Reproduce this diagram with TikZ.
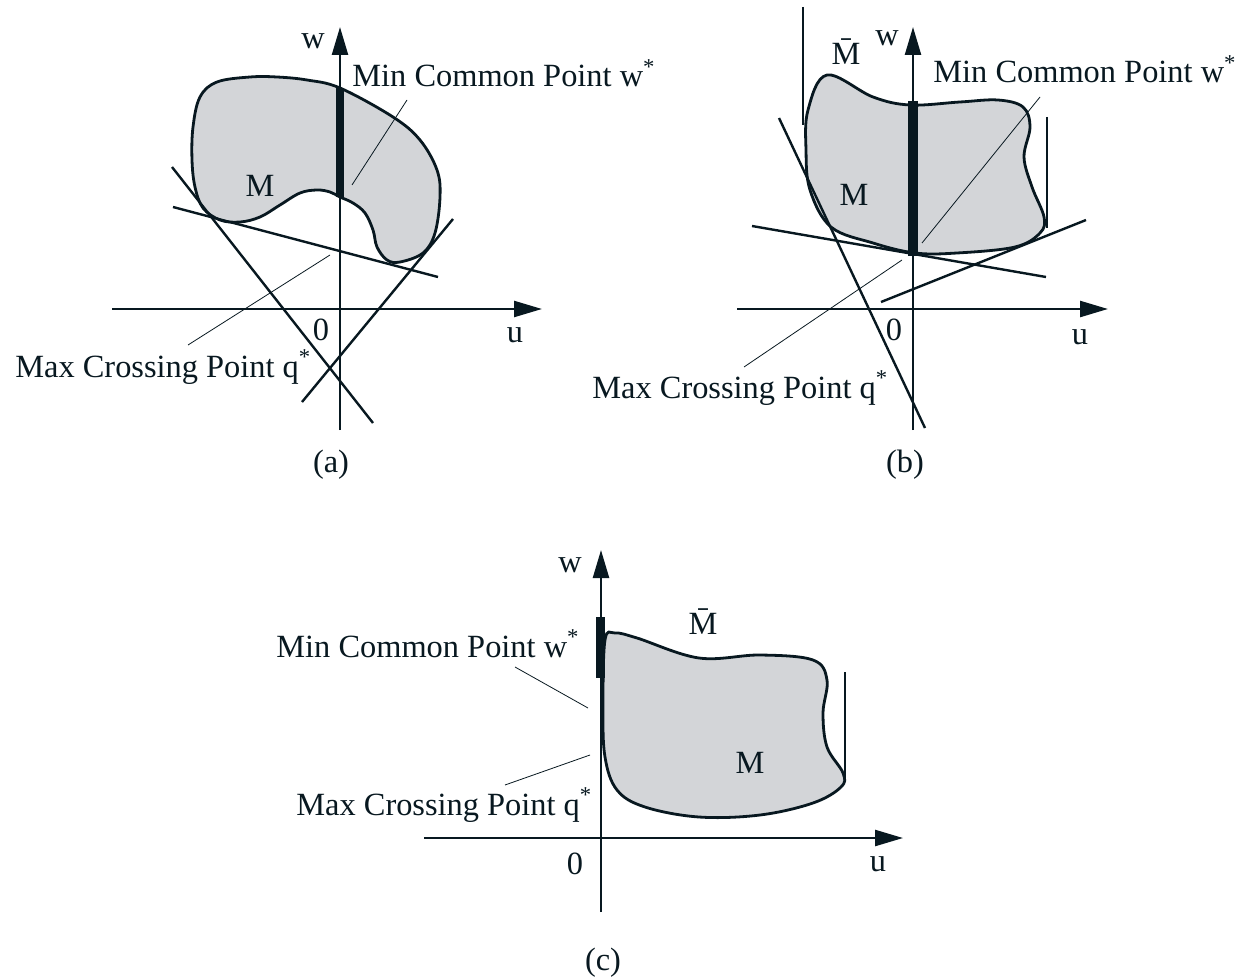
\documentclass[tikz,border=0pt]{standalone}
\usepackage{fontspec}
\setmainfont{Liberation Serif}
\usetikzlibrary{arrows.meta}
\definecolor{ink}{RGB}{8,24,32}
\definecolor{blobfill}{RGB}{211,213,216}
\begin{document}
\begin{tikzpicture}[x=0.5pt,y=-0.5pt,
  axis/.style={draw=ink,line width=1.2pt,-{Triangle[length=14pt,width=8pt]}},
  ln/.style={draw=ink,line width=1.2pt},
  blob/.style={draw=ink,line width=1.4pt,fill=blobfill},
  ptr/.style={draw=ink,line width=0.4pt},
  minbar/.style={draw=ink,line width=4pt},
  lbl/.style={font=\fontsize{16.2}{19}\selectfont,text=ink,inner sep=0pt},
]
\useasboundingbox (0,0) rectangle (1236,979);

% ================= (a) =================
\draw[blob] plot[smooth cycle,tension=0.6] coordinates {
 (200,97) (217,82) (250,77) (277,77) (307,80) (340,88) (393,117) (420,140)
 (437,170) (440,197) (435,233) (423,253) (400,262) (387,260) (377,247)
 (373,230) (365,213) (353,203) (340,197) (330,192) (317,190) (300,193)
 (280,205) (260,217) (240,222) (220,220) (203,208) (195,187) (192,160) (193,127)};
\coordinate (a1s) at (172,167); \coordinate (a1e) at (373,423);
\coordinate (a2s) at (173,207); \coordinate (a2e) at (438,277);
\coordinate (a3s) at (302,402); \coordinate (a3e) at (453,219);
\draw[ln] (a1s) -- (a1e);
\draw[ln] (a2s) -- (a2e);
\draw[ln] (a3s) -- (a3e);
\coordinate (auL) at (112,309); \coordinate (auR) at (542,309);
\coordinate (awB) at (340,430); \coordinate (awT) at (340,27);
\draw[axis] (auL) -- (auR);
\draw[axis] (awB) -- (awT);
\coordinate (abT) at (340,88); \coordinate (abB) at (340,197);
\draw[minbar] (abT) -- (abB);
\coordinate (apm1) at (407,100); \coordinate (apm2) at (352,185);
\draw[ptr] (apm1) -- (apm2);
\coordinate (apq1) at (330,255); \coordinate (apq2) at (188,345);
\draw[ptr] (apq1) -- (apq2);
\node[lbl] (aw) at (313,41) {w};
\node[lbl] (a0) at (321,330) {0};
\node[lbl] (au) at (515,335) {u};
\node[lbl] (aM) at (260,186) {M};
\node[lbl,anchor=base west] (amin) at (352,87) {Min Common Point w\textsuperscript{*}};
\node[lbl,anchor=base west] (amax) at (15,377) {Max Crossing Point q\textsuperscript{*}};
\node[lbl] (acap) at (331,465) {(a)};

% ================= (b) =================
\draw[blob] plot[smooth cycle,tension=0.6] coordinates {
 (827,75) (873,97) (910,105) (960,102) (998,100) (1023,107) (1030,127)
 (1024,157) (1032,187) (1044,217) (1040,233) (1015,247) (957,253)
 (915,253) (873,243) (831,227) (810,190) (806,150) (808,110)};
\coordinate (bv1t) at (803,7); \coordinate (bv1b) at (803,125);
\draw[ln] (bv1t) -- (bv1b);
\coordinate (bv2t) at (1047,117); \coordinate (bv2b) at (1047,228);
\draw[ln] (bv2t) -- (bv2b);
\coordinate (b1s) at (779,118); \coordinate (b1e) at (925,428);
\coordinate (b2s) at (752,226); \coordinate (b2e) at (1046,277);
\coordinate (b3s) at (881,302); \coordinate (b3e) at (1086,220);
\draw[ln] (b1s) -- (b1e);
\draw[ln] (b2s) -- (b2e);
\draw[ln] (b3s) -- (b3e);
\coordinate (buL) at (737,309); \coordinate (buR) at (1108,309);
\coordinate (bwB) at (913,430); \coordinate (bwT) at (913,27);
\draw[axis] (buL) -- (buR);
\draw[axis] (bwB) -- (bwT);
\coordinate (bbT) at (913,101); \coordinate (bbB) at (913,256);
\draw[minbar,line width=5pt] (bbT) -- (bbB);
\coordinate (bpm1) at (1040,97); \coordinate (bpm2) at (922,243);
\draw[ptr] (bpm1) -- (bpm2);
\coordinate (bpq1) at (902,260); \coordinate (bpq2) at (744,367);
\draw[ptr] (bpq1) -- (bpq2);
\node[lbl] (bw) at (887,38) {w};
\node[lbl] (bMbar) at (846,52) {\=M};
\node[lbl] (bM) at (854,195) {M};
\node[lbl] (b0) at (894,330) {0};
\node[lbl] (bu) at (1080,337) {u};
\node[lbl,anchor=base west] (bmin) at (933,83) {Min Common Point w\textsuperscript{*}};
\node[lbl,anchor=base west] (bmax) at (592,398) {Max Crossing Point q\textsuperscript{*}};
\node[lbl] (bcap) at (905,465) {(b)};

% ================= (c) =================
\draw[blob] plot[smooth cycle,tension=0.6] coordinates {
 (605,640) (615,633) (637,638) (699,658) (760,655) (813,660) (827,680)
 (823,713) (827,747) (843,773) (841,787) (813,803) (760,815) (699,817)
 (645,807) (617,790) (605,757) (603,707)};
\coordinate (cvt) at (845,672); \coordinate (cvb) at (845,778);
\draw[ln] (cvt) -- (cvb);
\coordinate (cuL) at (424,838); \coordinate (cuR) at (903,838);
\coordinate (cwB) at (601,912); \coordinate (cwT) at (601,550);
\draw[axis] (cuL) -- (cuR);
\draw[axis] (cwB) -- (cwT);
\coordinate (cbT) at (600,617); \coordinate (cbB) at (600,678);
\draw[minbar,line width=4.5pt] (cbT) -- (cbB);
\coordinate (cpm1) at (515,667); \coordinate (cpm2) at (588,708);
\draw[ptr] (cpm1) -- (cpm2);
\coordinate (cpq1) at (505,785); \coordinate (cpq2) at (590,755);
\draw[ptr] (cpq1) -- (cpq2);
\node[lbl] (cw) at (570,565) {w};
\node[lbl] (cMbar) at (703,622) {\=M};
\node[lbl] (cM) at (750,763) {M};
\node[lbl] (c0) at (575,864) {0};
\node[lbl] (cu) at (878,864) {u};
\node[lbl,anchor=base west] (cmin) at (276,657) {Min Common Point w\textsuperscript{*}};
\node[lbl,anchor=base west] (cmax) at (296,815) {Max Crossing Point q\textsuperscript{*}};
\node[lbl] (ccap) at (603,963) {(c)};
\end{tikzpicture}
\end{document}
